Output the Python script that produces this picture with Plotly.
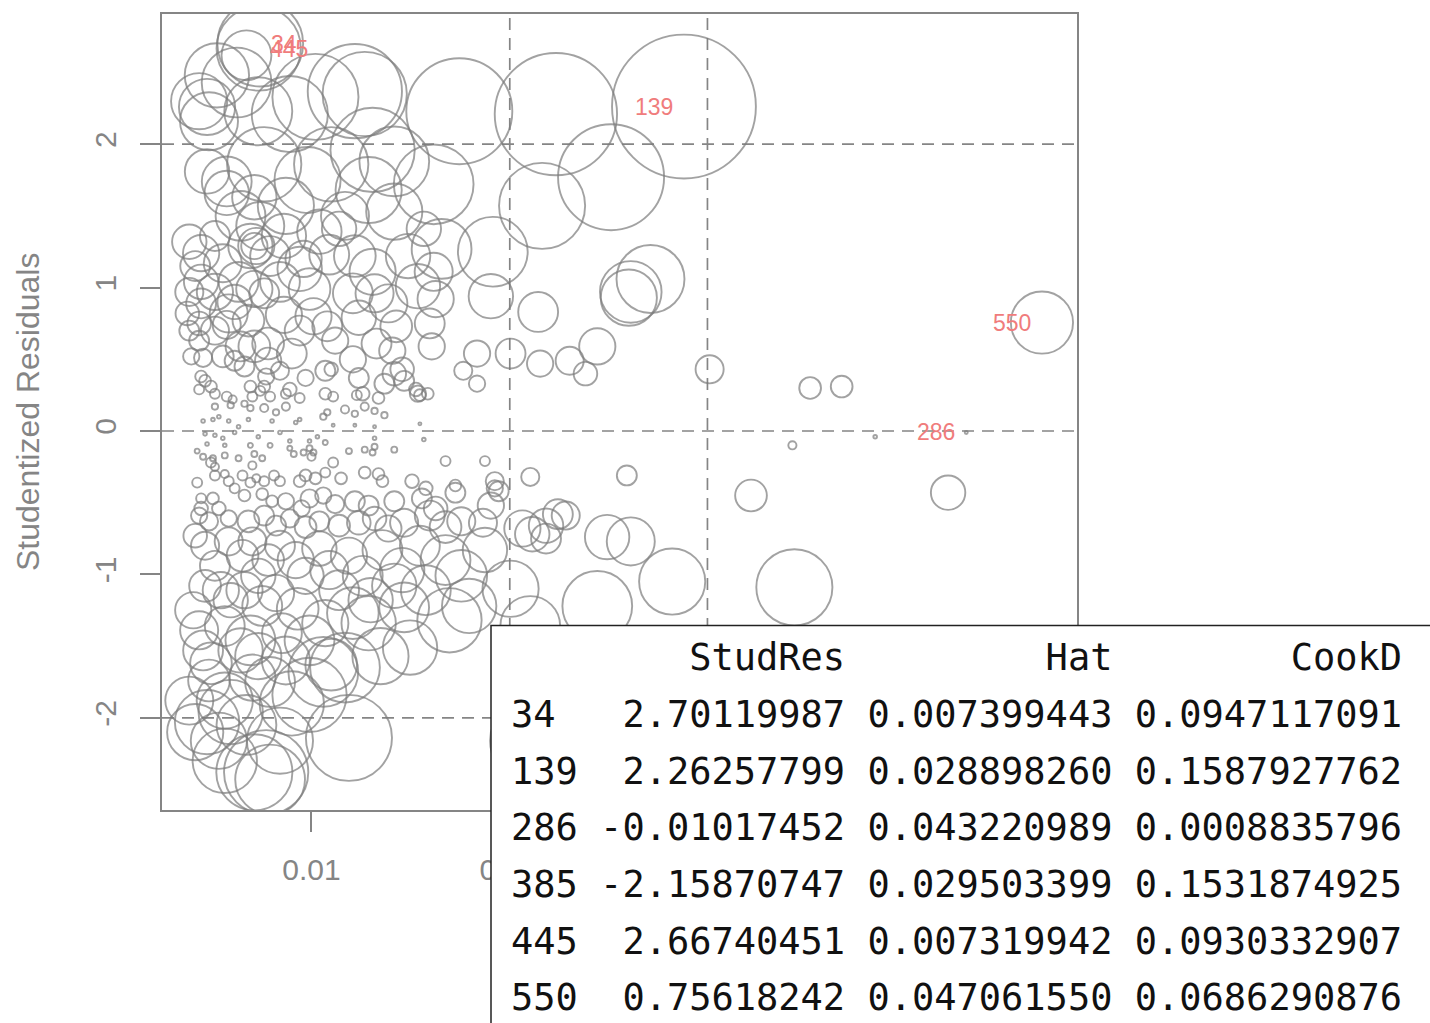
import plotly.graph_objects as go

# ---------------- data ----------------
# Top band of large positive residuals
hat_upper = [0.0067, 0.0052, 0.0062, 0.0047, 0.0048, 0.0073, 0.0089, 0.0102, 0.0122, 0.0127,
             0.0131, 0.0162, 0.0175, 0.0224, 0.0252, 0.0217, 0.0047, 0.0057, 0.0076, 0.0098,
             0.0110, 0.0129, 0.0057, 0.0071, 0.0043, 0.0064, 0.0087, 0.0117, 0.0142, 0.0142]
res_upper = [2.62, 2.48, 2.43, 2.26, 2.16, 2.23, 2.21, 2.33, 2.37, 2.35,
             1.96, 1.72, 2.23, 2.21, 1.77, 1.57, 1.81, 1.74, 1.86, 1.75,
             1.86, 1.68, 1.66, 1.63, 2.30, 1.50, 1.57, 1.50, 1.53, 1.88]
cook_upper = [0.055, 0.071, 0.077, 0.062, 0.064, 0.075, 0.084, 0.095, 0.104, 0.093,
              0.093, 0.088, 0.117, 0.135, 0.117, 0.095, 0.049, 0.055, 0.082, 0.073,
              0.082, 0.073, 0.049, 0.049, 0.062, 0.055, 0.062, 0.053, 0.062, 0.077]

# Moderate positive residuals (part a)
hat_pos_a = [0.0044, 0.0044, 0.0044, 0.0043, 0.0043, 0.0045, 0.0044, 0.0043, 0.0051, 0.0055,
             0.0063, 0.0069, 0.0072, 0.0071, 0.0071, 0.0076, 0.0058, 0.0057, 0.0051, 0.0064,
             0.0071, 0.0078, 0.0078, 0.0077, 0.0076, 0.0055, 0.0061, 0.0090, 0.0096, 0.0094,
             0.0099, 0.0086, 0.0101, 0.0109, 0.0114, 0.0122, 0.0131, 0.0132, 0.0139, 0.0108,
             0.0124, 0.0133, 0.0121, 0.0112, 0.0141, 0.0146, 0.0107, 0.0124, 0.0126, 0.0137,
             0.0147, 0.0154]
res_pos_a = [1.24, 1.04, 0.89, 0.75, 0.63, 0.51, 0.38, 0.29, 1.36, 1.17,
             1.04, 1.29, 1.29, 1.29, 0.99, 0.96, 0.82, 0.74, 0.70, 0.59,
             0.59, 0.61, 0.49, 0.38, 0.31, 0.52, 0.49, 0.54, 1.20, 1.13,
             0.99, 0.81, 0.80, 1.23, 1.41, 1.22, 1.11, 0.96, 0.89, 0.73,
             0.79, 0.61, 0.50, 0.63, 0.56, 0.43, 0.42, 0.37, 0.26, 0.33,
             0.35, 0.26]
cook_pos_a = [0.040, 0.038, 0.033, 0.026, 0.022, 0.020, 0.013, 0.011, 0.033, 0.042,
              0.044, 0.049, 0.040, 0.029, 0.040, 0.033, 0.042, 0.031, 0.031, 0.033,
              0.035, 0.035, 0.029, 0.018, 0.013, 0.024, 0.022, 0.033, 0.040, 0.049,
              0.046, 0.040, 0.040, 0.044, 0.038, 0.046, 0.051, 0.042, 0.042, 0.033,
              0.038, 0.033, 0.029, 0.029, 0.029, 0.026, 0.022, 0.022, 0.015, 0.022,
              0.022, 0.018]

# Moderate positive residuals (part b)
hat_pos_b = [0.0157, 0.0166, 0.0162, 0.0163, 0.0154, 0.0192, 0.0191, 0.0160, 0.0161, 0.0184,
             0.0177, 0.0184, 0.0142, 0.0046, 0.0049, 0.0051, 0.0069, 0.0074, 0.0089, 0.0097,
             0.0107, 0.0110, 0.0153, 0.0159, 0.0038, 0.0041, 0.0038, 0.0037, 0.0038, 0.0039,
             0.0061, 0.0068, 0.0084, 0.0079, 0.0086, 0.0104, 0.0094, 0.0121, 0.0149, 0.0143,
             0.0074, 0.0051, 0.0066, 0.0084]
res_pos_b = [1.41, 1.27, 1.11, 0.92, 1.01, 1.25, 0.94, 0.75, 0.59, 0.54,
             0.42, 0.33, 0.40, 0.35, 0.31, 0.26, 0.31, 0.28, 0.29, 0.37,
             0.26, 0.43, 0.29, 0.26, 1.32, 1.15, 0.97, 0.82, 0.70, 0.52,
             0.90, 0.77, 1.04, 1.22, 1.36, 1.39, 0.70, 0.96, 1.22, 0.73,
             1.43, 0.97, 0.45, 0.42]
cook_pos_b = [0.038, 0.066, 0.042, 0.040, 0.049, 0.077, 0.049, 0.033, 0.029, 0.029,
              0.020, 0.018, 0.026, 0.013, 0.013, 0.011, 0.013, 0.011, 0.015, 0.018,
              0.013, 0.015, 0.015, 0.013, 0.038, 0.033, 0.031, 0.026, 0.022, 0.018,
              0.038, 0.035, 0.044, 0.044, 0.049, 0.049, 0.033, 0.044, 0.049, 0.035,
              0.053, 0.040, 0.022, 0.020]

# Residuals close to zero
hat_zero = [0.0057, 0.0060, 0.0070, 0.0079, 0.0087, 0.0094, 0.0111, 0.0123, 0.0134, 0.0155,
            0.0051, 0.0059, 0.0066, 0.0069, 0.0076, 0.0082, 0.0087, 0.0106, 0.0108, 0.0117,
            0.0122, 0.0127, 0.0132, 0.0137, 0.0045, 0.0050, 0.0053, 0.0058, 0.0063, 0.0068,
            0.0080, 0.0092, 0.0094, 0.0111, 0.0122, 0.0132, 0.0155, 0.0046, 0.0051, 0.0055,
            0.0061, 0.0073, 0.0084, 0.0089, 0.0099, 0.0103, 0.0132, 0.0157, 0.0047, 0.0056,
            0.0069, 0.0079, 0.0089, 0.0099, 0.0101, 0.0107, 0.0119, 0.0127, 0.0132, 0.0142,
            0.0042, 0.0045, 0.0050, 0.0056, 0.0063, 0.0071, 0.0075, 0.0091, 0.0096, 0.0100,
            0.0131, 0.0168, 0.0188, 0.0049, 0.0051, 0.0070, 0.0111]
res_zero = [0.24, 0.22, 0.24, 0.24, 0.26, 0.23, 0.24, 0.25, 0.23, 0.25,
            0.17, 0.18, 0.19, 0.16, 0.16, 0.13, 0.17, 0.10, 0.13, 0.15,
            0.12, 0.17, 0.14, 0.11, 0.07, 0.08, 0.10, 0.07, 0.03, 0.08,
            0.07, 0.06, 0.08, 0.04, 0.04, 0.03, 0.05, -0.02, -0.03, -0.05,
            -0.01, -0.04, -0.01, -0.07, -0.07, -0.04, -0.05, -0.06, -0.09, -0.10,
            -0.10, -0.10, -0.12, -0.12, -0.15, -0.08, -0.14, -0.13, -0.11, -0.13,
            -0.14, -0.18, -0.19, -0.17, -0.19, -0.16, -0.19, -0.16, -0.15, -0.18,
            -0.15, -0.21, -0.21, -0.22, -0.25, -0.24, -0.22]
cook_zero = [0.011, 0.009, 0.011, 0.011, 0.011, 0.011, 0.011, 0.011, 0.013, 0.013,
             0.007, 0.007, 0.007, 0.007, 0.009, 0.007, 0.009, 0.007, 0.007, 0.009,
             0.007, 0.009, 0.007, 0.007, 0.004, 0.004, 0.004, 0.004, 0.004, 0.004,
             0.004, 0.004, 0.004, 0.003, 0.003, 0.003, 0.003, 0.004, 0.004, 0.004,
             0.004, 0.004, 0.004, 0.004, 0.004, 0.004, 0.004, 0.004, 0.004, 0.004,
             0.0055, 0.0055, 0.0055, 0.0066, 0.0066, 0.0055, 0.0066, 0.0066, 0.0066, 0.0066,
             0.0055, 0.0066, 0.0066, 0.0066, 0.0066, 0.0066, 0.0066, 0.0066, 0.0066, 0.009,
             0.0066, 0.011, 0.011, 0.011, 0.009, 0.009, 0.011]

# Moderate negative residuals
hat_neg = [0.0042, 0.0051, 0.0056, 0.0058, 0.0061, 0.0065, 0.0069, 0.0072, 0.0076, 0.0081,
           0.0084, 0.0094, 0.0097, 0.0102, 0.0107, 0.0115, 0.0127, 0.0134, 0.0136, 0.0151,
           0.0158, 0.0173, 0.0193, 0.0044, 0.0050, 0.0044, 0.0066, 0.0075, 0.0080, 0.0087,
           0.0095, 0.0099, 0.0106, 0.0112, 0.0122, 0.0129, 0.0142, 0.0156, 0.0163, 0.0173,
           0.0043, 0.0048, 0.0053, 0.0058, 0.0068, 0.0076, 0.0082, 0.0089, 0.0097, 0.0104,
           0.0114, 0.0124, 0.0132, 0.0139, 0.0147, 0.0160, 0.0168, 0.0176, 0.0187, 0.0191,
           0.0041, 0.0046, 0.0051, 0.0058, 0.0065, 0.0070, 0.0073, 0.0078, 0.0084, 0.0092,
           0.0097, 0.0104, 0.0109, 0.0119, 0.0126, 0.0136, 0.0146, 0.0155, 0.0168, 0.0176,
           0.0188]
res_neg = [-0.36, -0.31, -0.30, -0.35, -0.40, -0.31, -0.36, -0.33, -0.35, -0.31,
           -0.35, -0.35, -0.31, -0.33, -0.29, -0.33, -0.29, -0.30, -0.35, -0.35,
           -0.40, -0.38, -0.40, -0.47, -0.47, -0.54, -0.45, -0.44, -0.49, -0.49,
           -0.54, -0.47, -0.45, -0.51, -0.49, -0.52, -0.49, -0.47, -0.54, -0.43,
           -0.59, -0.63, -0.54, -0.61, -0.63, -0.59, -0.66, -0.61, -0.67, -0.63,
           -0.66, -0.64, -0.61, -0.68, -0.64, -0.59, -0.67, -0.63, -0.64, -0.52,
           -0.73, -0.80, -0.94, -0.77, -0.87, -0.77, -1.01, -0.90, -0.80, -0.90,
           -1.01, -0.82, -0.97, -0.87, -1.01, -0.83, -0.97, -0.80, -0.90, -1.01,
           -0.83]
cook_neg = [0.011, 0.011, 0.009, 0.011, 0.011, 0.011, 0.011, 0.009, 0.011, 0.011,
            0.011, 0.013, 0.013, 0.013, 0.011, 0.013, 0.013, 0.013, 0.013, 0.015,
            0.015, 0.013, 0.018, 0.011, 0.013, 0.015, 0.013, 0.013, 0.013, 0.018,
            0.018, 0.020, 0.018, 0.020, 0.022, 0.022, 0.022, 0.022, 0.026, 0.022,
            0.018, 0.020, 0.015, 0.018, 0.024, 0.022, 0.022, 0.020, 0.024, 0.022,
            0.024, 0.026, 0.026, 0.029, 0.031, 0.033, 0.035, 0.031, 0.031, 0.029,
            0.026, 0.031, 0.033, 0.031, 0.035, 0.031, 0.038, 0.035, 0.033, 0.040,
            0.040, 0.038, 0.042, 0.040, 0.044, 0.044, 0.049, 0.044, 0.055, 0.057,
            0.049]

# Points with larger hat-values (right part of the plot)
hat_right = [0.0215, 0.0201, 0.0216, 0.0231, 0.0245, 0.0239, 0.0302, 0.0353, 0.0369, 0.0344,
             0.0386, 0.0423, 0.0323, 0.0260, 0.0211, 0.0193, 0.0195, 0.0345, 0.0283, 0.0245,
             0.0201, 0.0211, 0.0207, 0.0212, 0.0219, 0.0225, 0.0229, 0.0219, 0.0250, 0.0262,
             0.0272, 0.0261, 0.0262]
res_right = [0.83, 0.54, 0.47, 0.49, 0.59, 0.40, 0.43, 0.30, 0.31, -0.10,
             -0.04, -0.43, -0.45, -0.31, -0.32, -0.35, -0.42, -1.09, -1.05, -1.22,
             -1.10, -1.36, -0.68, -0.72, -0.66, -0.58, -0.59, -0.75, -0.74, -0.77,
             1.06, 0.93, 0.97]
cook_right = [0.044, 0.033, 0.029, 0.031, 0.040, 0.026, 0.031, 0.024, 0.024, 0.009,
              0.004, 0.038, 0.035, 0.022, 0.020, 0.020, 0.022, 0.084, 0.073, 0.077,
              0.062, 0.066, 0.040, 0.038, 0.038, 0.033, 0.031, 0.033, 0.049, 0.053,
              0.075, 0.062, 0.068]

# Bottom band of large negative residuals
hat_lower = [0.0046, 0.0054, 0.0045, 0.0049, 0.0048, 0.0041, 0.0047, 0.0053, 0.0056, 0.0059,
             0.0071, 0.0077, 0.0079, 0.0064, 0.0069, 0.0073, 0.0070, 0.0079, 0.0090, 0.0099,
             0.0106, 0.0110, 0.0117, 0.0085, 0.0093, 0.0107, 0.0121, 0.0129, 0.0130, 0.0147,
             0.0170, 0.0180, 0.0119, 0.0212, 0.0059, 0.0066, 0.0075, 0.0082, 0.0040, 0.0043,
             0.0056, 0.0087, 0.0099, 0.0056, 0.0038, 0.0067, 0.0084, 0.0135, 0.0150, 0.0114,
             0.0142, 0.0158]
res_lower = [-1.08, -1.11, -1.53, -1.62, -1.74, -2.10, -2.03, -2.16, -2.30, -1.96,
             -2.38, -2.38, -2.43, -1.53, -1.46, -1.57, -1.72, -1.75, -1.90, -1.84,
             -1.68, -1.63, -1.65, -1.41, -1.24, -1.34, -1.27, -1.34, -1.18, -1.23,
             -1.32, -1.22, -2.14, -2.16, -1.18, -1.11, -1.22, -1.13, -1.25, -1.39,
             -1.36, -1.60, -1.46, -1.88, -1.88, -2.05, -2.16, -1.57, -1.51, -1.11,
             -1.08, -1.11]
cook_lower = [0.035, 0.040, 0.044, 0.046, 0.046, 0.062, 0.071, 0.062, 0.071, 0.071,
              0.084, 0.093, 0.077, 0.049, 0.055, 0.051, 0.051, 0.055, 0.071, 0.082,
              0.077, 0.057, 0.077, 0.044, 0.046, 0.051, 0.057, 0.060, 0.049, 0.055,
              0.071, 0.060, 0.095, 0.093, 0.038, 0.040, 0.044, 0.040, 0.040, 0.042,
              0.044, 0.053, 0.055, 0.062, 0.053, 0.066, 0.073, 0.062, 0.060, 0.044,
              0.049, 0.055]

# Influential observations (printed table)
infl_ids = [34, 139, 286, 385, 445, 550]
infl_studres = [2.70119987, 2.26257799, -0.01017452, -2.15870747, 2.66740451, 0.75618242]
infl_hat = [0.007399443, 0.028898260, 0.043220989, 0.029503399, 0.007319942, 0.047061550]
infl_cookd = [0.0947117091, 0.1587927762, 0.0008835796, 0.1531874925, 0.0930332907, 0.0686290876]
table_columns = ["StudRes", "Hat", "CookD"]

x_ticks = [0.01, 0.02, 0.03, 0.04]
y_ticks = [-2, -1, 0, 1, 2]
mean_hat = 0.01003          # average hat-value (p/n)
res_cutoffs = [-2, 0, 2]
y_title = "Studentized Residuals"

# ---------------- figure ----------------
W, H = 1430, 1023
L, R, T, B = 162, 353, 12, 213
PW, PH = W - L - R, H - T - B
GRAY = "#858585"
CIRCLE = "#7c7c7c"


def px_x(px):
    return (px - L) / PW


def px_y(py):
    return (H - B - py) / PH


hat_all = hat_upper + hat_pos_a + hat_pos_b + hat_zero + hat_neg + hat_right + hat_lower + infl_hat
res_all = res_upper + res_pos_a + res_pos_b + res_zero + res_neg + res_right + res_lower + infl_studres
cook_all = cook_upper + cook_pos_a + cook_pos_b + cook_zero + cook_neg + cook_right + cook_lower + infl_cookd

SIZE_PER_COOK = 906.0
sizes = [max(c * SIZE_PER_COOK, 3.0) for c in cook_all]

fig = go.Figure()
fig.add_trace(go.Scatter(
    x=hat_all, y=res_all, mode="markers",
    marker=dict(size=sizes, sizemode="diameter", color="rgba(0,0,0,0)",
                line=dict(color=CIRCLE, width=1.9)),
    cliponaxis=True, showlegend=False, hoverinfo="skip"))

shapes = []
for r in res_cutoffs:
    shapes.append(dict(type="line", xref="paper", x0=0, x1=1, yref="y", y0=r, y1=r,
                       line=dict(color=GRAY, width=1.7, dash="12px,8px"), layer="below"))
for k in (2, 3):
    shapes.append(dict(type="line", xref="x", x0=k * mean_hat, x1=k * mean_hat, yref="paper", y0=0, y1=1,
                       line=dict(color=GRAY, width=1.7, dash="12px,8px"), layer="below"))
# printed table box over the lower right
shapes.append(dict(type="rect", xref="paper", yref="paper",
                   x0=px_x(491), x1=px_x(1450), y0=px_y(1040), y1=px_y(625),
                   fillcolor="white", line=dict(color="#222222", width=1.5), layer="above"))

annotations = []
# point labels
label_side = {34: "left", 445: "left", 139: "right", 286: "right", 550: "right"}
for i, pid in enumerate(infl_ids):
    if pid not in label_side:
        continue
    side = label_side[pid]
    annotations.append(dict(x=infl_hat[i], y=infl_studres[i], xref="x", yref="y",
                            text=str(pid), showarrow=False, xanchor=side, yanchor="middle",
                            xshift=9 if side == "left" else -9,
                            font=dict(family="Liberation Sans, Arial", size=23, color="#F07C7C")))

# y title
annotations.append(dict(x=px_x(28), y=0.5, xref="paper", yref="paper", text=y_title,
                        textangle=-90, showarrow=False, xanchor="center", yanchor="middle",
                        font=dict(family="Liberation Sans, Arial", size=32, color=GRAY)))

# table text
NB = "\u00a0"
header = " " * 4 + table_columns[0].rjust(11) + " " + table_columns[1].rjust(11) + " " + table_columns[2].rjust(12)
rows = [header]
for pid, s, h, c in zip(infl_ids, infl_studres, infl_hat, infl_cookd):
    rows.append(str(pid).ljust(3) + " " + f"{s:.8f}".rjust(11) + " " + f"{h:.9f}".rjust(11)
                + " " + f"{c:.10f}".rjust(12))
row_centers = [657, 714, 771, 828, 885, 942, 998]
for txt, yc in zip(rows, row_centers):
    annotations.append(dict(x=px_x(509), y=px_y(yc), xref="paper", yref="paper",
                            text=txt.replace(" ", NB), showarrow=False,
                            xanchor="left", yanchor="middle",
                            font=dict(family="DejaVu Sans Mono", size=37, color="#111111")))

fig.update_layout(
    width=W, height=H, margin=dict(l=L, r=R, t=T, b=B, pad=0),
    paper_bgcolor="white", plot_bgcolor="white",
    shapes=shapes, annotations=annotations, showlegend=False,
    xaxis=dict(range=[0.002415, 0.04884], tickvals=x_ticks, ticktext=[f"{v:g}" for v in x_ticks],
               ticks="outside", ticklen=20, tickwidth=2, tickcolor=GRAY,
               showline=True, linecolor=GRAY, linewidth=2, mirror=True,
               showgrid=False, zeroline=False, ticklabelstandoff=12,
               tickfont=dict(family="Liberation Sans, Arial", size=30, color=GRAY)),
    yaxis=dict(range=[-2.643, 2.908], tickvals=y_ticks, ticktext=[str(v) for v in y_ticks],
               ticks="outside", ticklen=20, tickwidth=2, tickcolor=GRAY, tickangle=-90,
               showline=True, linecolor=GRAY, linewidth=2, mirror=True,
               showgrid=False, zeroline=False, ticklabelstandoff=12,
               tickfont=dict(family="Liberation Sans, Arial", size=30, color=GRAY)),
)

fig.write_html("out.html")
